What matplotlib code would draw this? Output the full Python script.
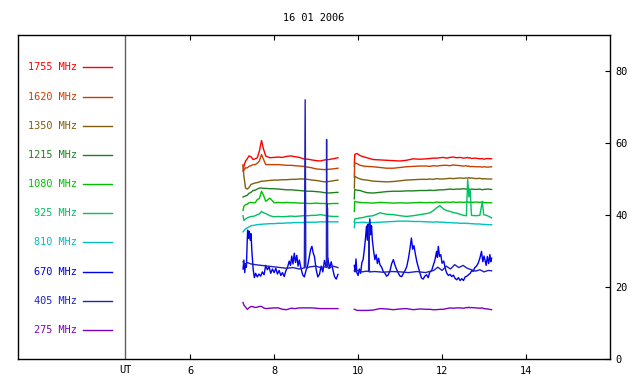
import matplotlib
matplotlib.use("Agg")
import matplotlib.pyplot as plt
import numpy as np

# channel names and colours (top to bottom in the key)
freqs = ["1755 MHz", "1620 MHz", "1350 MHz", "1215 MHz", "1080 MHz",
         "925 MHz", "810 MHz", "670 MHz", "405 MHz", "275 MHz"]
colors = ["#ff0000", "#c84000", "#806010", "#208020", "#00c000",
          "#00c060", "#00c0c0", "#0000f0", "#2020c0", "#8000c0"]

# time (UT hours), first and second recording block
t1 = [7.26, 7.28, 7.32, 7.36, 7.40, 7.45, 7.50, 7.55, 7.60, 7.65,
      7.70, 7.75, 7.80, 7.90, 8.00, 8.10, 8.20, 8.30, 8.40, 8.50,
      8.60, 8.70, 8.80, 8.90, 9.00, 9.10, 9.20, 9.30, 9.40, 9.52]
t2 = [9.91, 9.92, 9.97, 10.05, 10.12, 10.21, 10.36, 10.52, 10.68, 10.84,
      11.00, 11.15, 11.31, 11.47, 11.63, 11.71, 11.79, 11.87, 11.95, 12.03,
      12.11, 12.19, 12.26, 12.35, 12.43, 12.51, 12.58, 12.61, 12.64, 12.67,
      12.70, 12.80, 12.90, 12.96, 12.99, 13.08, 13.18]

f1755_a = [52.2, 53.5, 55.0, 55.6, 56.4, 56.2, 55.4, 55.6, 55.9, 57.8,
           60.7, 58.2, 56.4, 55.9, 56.0, 56.1, 56.0, 56.3, 56.4, 56.2,
           56.0, 55.6, 55.5, 55.3, 55.1, 55.0, 55.3, 55.4, 55.6, 55.9]
f1755_b = [53.5, 56.8, 57.1, 56.5, 56.2, 55.9, 55.4, 55.3, 55.2, 55.1,
           55.0, 55.2, 55.6, 55.5, 55.6, 55.7, 55.8, 55.8, 55.9, 56.0,
           55.8, 56.0, 56.1, 55.9, 56.0, 55.8, 55.9, 56.0, 55.8, 55.9,
           55.7, 55.8, 55.6, 55.7, 55.5, 55.7, 55.6]
f1620_a = [54.0, 52.4, 53.1, 53.1, 53.5, 53.7, 54.0, 54.0, 54.4, 55.0,
           56.8, 55.4, 54.0, 54.0, 54.0, 54.0, 53.9, 53.8, 53.8, 53.7,
           53.6, 53.5, 53.3, 53.1, 52.8, 52.7, 52.6, 52.7, 52.8, 53.0]
f1620_b = [50.5, 54.5, 54.3, 53.8, 53.6, 53.5, 53.4, 53.2, 53.0, 53.0,
           53.2, 53.4, 53.5, 53.6, 53.6, 53.5, 53.7, 53.6, 53.7, 53.8,
           53.8, 53.7, 53.9, 53.8, 53.7, 53.6, 53.7, 53.5, 53.6, 53.4,
           53.5, 53.4, 53.4, 53.3, 53.4, 53.3, 53.4]
f1350_a = [53.6, 50.8, 47.5, 47.2, 47.6, 48.5, 48.7, 48.9, 49.0, 49.2,
           49.4, 49.4, 49.5, 49.6, 49.7, 49.7, 49.8, 49.8, 49.9, 49.9,
           50.0, 50.0, 49.9, 49.7, 49.6, 49.4, 49.2, 49.3, 49.5, 49.7]
f1350_b = [47.5, 50.8, 50.4, 50.0, 49.8, 49.7, 49.4, 49.3, 49.2, 49.3,
           49.5, 49.7, 49.8, 49.9, 49.9, 50.0, 49.9, 50.1, 50.0, 50.0,
           50.1, 50.2, 50.1, 50.2, 50.3, 50.2, 50.3, 50.2, 50.4, 50.2,
           50.3, 50.1, 50.2, 50.0, 50.1, 50.0, 50.0]
f1215_a = [45.0, 45.1, 45.3, 45.5, 46.0, 46.3, 46.8, 46.9, 47.2, 47.5,
           47.5, 47.4, 47.4, 47.3, 47.3, 47.2, 47.1, 47.0, 47.0, 46.9,
           46.8, 46.7, 46.6, 46.6, 46.5, 46.4, 46.2, 46.1, 46.2, 46.3]
f1215_b = [44.5, 47.1, 46.9, 46.8, 46.5, 46.2, 46.1, 46.3, 46.5, 46.6,
           46.6, 46.7, 46.7, 46.8, 46.8, 46.9, 46.8, 46.9, 47.0, 47.0,
           47.1, 47.2, 47.1, 47.2, 47.2, 47.3, 47.2, 47.1, 47.2, 47.1,
           47.2, 47.1, 47.2, 47.0, 47.1, 47.2, 47.1]
f1080_a = [41.3, 42.4, 42.9, 43.0, 43.4, 43.5, 43.4, 43.4, 44.3, 44.6,
           46.6, 45.4, 43.8, 44.7, 43.4, 43.5, 43.4, 43.5, 43.4, 43.4,
           43.3, 43.3, 43.2, 43.2, 43.3, 43.2, 43.2, 43.1, 43.2, 43.2]
f1080_b = [41.0, 43.8, 43.6, 43.5, 43.4, 43.4, 43.3, 43.5, 43.4, 43.3,
           43.4, 43.3, 43.4, 43.5, 43.4, 43.5, 43.4, 43.6, 43.5, 43.5,
           43.6, 43.5, 43.6, 43.5, 43.6, 43.5, 43.6, 43.7, 43.5, 43.6,
           43.5, 43.6, 43.5, 43.6, 43.5, 43.4, 43.4]
f925_a = [39.8, 38.5, 38.9, 39.2, 39.4, 39.6, 39.6, 39.8, 40.1, 40.3,
          41.0, 40.6, 40.4, 39.8, 39.5, 39.6, 39.5, 39.6, 39.7, 39.6,
          39.7, 39.8, 39.8, 39.9, 39.9, 40.1, 39.9, 39.7, 39.6, 39.6]
f925_b = [38.0, 38.9, 39.0, 39.2, 39.3, 39.6, 39.8, 40.6, 40.2, 40.1,
          39.8, 39.6, 39.8, 40.1, 40.4, 40.6, 41.2, 42.0, 42.6, 41.7,
          41.2, 41.0, 40.7, 40.5, 40.2, 39.9, 39.8, 49.9, 45.0, 47.0,
          39.9, 39.8, 39.9, 43.8, 40.1, 39.8, 39.2]
f810_a = [35.3, 35.6, 36.2, 36.4, 36.7, 37.0, 37.1, 37.2, 37.3, 37.4,
          37.4, 37.5, 37.5, 37.6, 37.6, 37.7, 37.7, 37.8, 37.8, 37.9,
          37.9, 37.9, 38.0, 38.0, 38.0, 38.1, 38.1, 38.1, 38.1, 38.1]
f810_b = [36.5, 37.8, 37.9, 37.9, 38.0, 37.9, 37.9, 38.0, 38.1, 38.2,
          38.3, 38.3, 38.2, 38.2, 38.1, 38.1, 38.0, 38.1, 38.0, 38.0,
          37.9, 37.9, 37.8, 37.8, 37.7, 37.7, 37.7, 37.6, 37.7, 37.6,
          37.6, 37.5, 37.5, 37.4, 37.4, 37.3, 37.3]
f275_a = [15.7, 15.0, 14.4, 13.8, 14.2, 14.6, 14.5, 14.3, 14.4, 14.6,
          14.6, 14.2, 14.0, 14.1, 14.2, 14.2, 13.8, 13.7, 14.1, 14.0,
          14.2, 14.2, 14.2, 14.2, 14.1, 14.0, 14.0, 14.0, 14.0, 14.0]
f275_b = [13.8, 13.8, 13.5, 13.5, 13.5, 13.5, 13.6, 14.0, 13.9, 13.7,
          13.9, 14.0, 13.7, 13.9, 13.8, 13.8, 13.7, 13.7, 13.8, 13.8,
          14.0, 14.2, 14.1, 14.2, 14.2, 14.1, 14.3, 14.2, 14.4, 14.2,
          14.3, 14.2, 14.1, 14.2, 14.0, 13.9, 13.7]

# 670 MHz is sampled finer, it is the noisy one
t670_a = [7.26, 7.28, 7.30, 7.32, 7.34, 7.36, 7.37, 7.39, 7.41, 7.43,
          7.45, 7.47, 7.50, 7.53, 7.56, 7.60, 7.64, 7.68, 7.72, 7.76,
          7.80, 7.84, 7.88, 7.92, 7.96, 8.00, 8.04, 8.08, 8.12, 8.16,
          8.20, 8.24, 8.28, 8.32, 8.36, 8.39, 8.42, 8.45, 8.48, 8.51,
          8.54, 8.57, 8.60, 8.64, 8.68, 8.72, 8.76, 8.80, 8.84, 8.87,
          8.90, 8.93, 8.96, 9.00, 9.04, 9.08, 9.12, 9.16, 9.20, 9.24,
          9.28, 9.32, 9.36, 9.40, 9.44, 9.48, 9.52]
f670_a = [25.0, 27.5, 24.0, 26.5, 25.5, 33.0, 35.8, 33.5, 35.5, 33.0,
          34.8, 30.0, 25.0, 22.6, 23.8, 22.8, 23.6, 23.0, 24.2, 23.4,
          26.0, 24.8, 25.6, 23.8, 25.0, 24.0, 25.2, 23.6, 24.6, 23.2,
          24.0, 22.9, 24.5, 25.5, 27.2, 26.0, 28.6, 26.4, 29.4, 26.8,
          28.8, 25.8, 27.5, 25.2, 23.4, 22.8, 24.6, 26.0, 28.5, 30.4,
          31.3, 29.5, 28.5, 25.0, 22.8, 23.5, 25.8, 24.2, 27.4, 25.5,
          28.0, 25.2, 27.0, 24.8, 22.8, 22.2, 23.5]
t670_b = [9.91, 9.93, 9.95, 9.97, 10.00, 10.03, 10.06, 10.09, 10.12, 10.15,
          10.18, 10.20, 10.22, 10.24, 10.26, 10.28, 10.30, 10.32, 10.34, 10.37,
          10.40, 10.43, 10.46, 10.49, 10.52, 10.56, 10.60, 10.64, 10.68, 10.72,
          10.76, 10.80, 10.84, 10.88, 10.92, 10.96, 11.00, 11.04, 11.08, 11.12,
          11.16, 11.20, 11.24, 11.27, 11.30, 11.33, 11.36, 11.40, 11.43, 11.47,
          11.51, 11.55, 11.59, 11.63, 11.67, 11.71, 11.75, 11.79, 11.83, 11.87,
          11.89, 11.91, 11.94, 11.97, 12.00, 12.04, 12.08, 12.11, 12.15, 12.19,
          12.23, 12.27, 12.31, 12.35, 12.39, 12.43, 12.47, 12.51, 12.55, 12.59,
          12.63, 12.67, 12.71, 12.74, 12.78, 12.82, 12.86, 12.90, 12.94, 12.97,
          13.00, 13.02, 13.05, 13.08, 13.11, 13.14, 13.16, 13.18]
f670_b = [26.0, 24.2, 27.8, 24.0, 23.2, 25.0, 23.8, 26.8, 27.6, 30.5,
          34.0, 36.9, 33.0, 37.5, 35.0, 38.9, 34.5, 37.0, 33.0, 30.0,
          27.6, 29.0, 26.5, 28.0, 26.2, 25.5, 24.3, 23.8, 23.0, 23.4,
          24.5, 26.5, 27.6, 26.0, 24.8, 23.8, 23.0, 22.9, 23.8, 24.6,
          25.7, 28.0, 31.0, 33.6, 30.5, 31.5, 29.4, 27.0, 25.7, 24.0,
          22.5, 22.2, 23.0, 23.4, 22.6, 24.2, 24.5, 26.0, 27.5, 29.9,
          28.2, 31.3, 28.5, 29.0, 26.6, 27.2, 25.0, 23.9, 23.2, 23.5,
          22.9, 23.3, 22.4, 22.0, 22.6, 21.8, 22.3, 21.8, 22.8, 23.0,
          23.4, 23.8, 24.6, 24.3, 25.4, 25.8, 26.6, 28.0, 29.9, 27.0,
          28.6, 27.6, 26.0, 28.5, 26.5, 29.0, 27.0, 28.0]

# 405 MHz, with its two short bursts in the first block
t405_a = [7.26, 7.30, 7.36, 7.45, 7.55, 7.70, 7.85, 8.00, 8.15, 8.30,
          8.45, 8.60, 8.72, 8.74, 8.755, 8.77, 8.85, 9.00, 9.10, 9.20,
          9.245, 9.25, 9.255, 9.26, 9.265, 9.27, 9.28, 9.30, 9.40, 9.52]
f405_a = [27.0, 26.0, 26.8, 26.4, 26.2, 26.0, 25.8, 25.6, 25.4, 25.2,
          25.4, 25.0, 25.3, 72.0, 25.5, 25.2, 25.6, 25.8, 25.4, 25.6,
          25.5, 61.0, 28.0, 43.0, 26.0, 42.0, 25.5, 25.2, 25.8, 25.4]
t405_b = [9.91, 10.00, 10.10, 10.20, 10.25, 10.26, 10.27, 10.40, 10.60, 10.80,
          11.00, 11.20, 11.40, 11.60, 11.80, 11.90, 12.00, 12.10, 12.20, 12.30,
          12.40, 12.50, 12.60, 12.70, 12.80, 12.90, 13.00, 13.10, 13.18]
f405_b = [24.5, 24.6, 24.2, 24.4, 24.3, 37.0, 24.2, 24.3, 24.1, 24.3,
          24.2, 24.0, 24.3, 24.0, 24.6, 25.5, 24.6, 25.8, 25.0, 26.2,
          25.4, 26.0, 25.2, 24.8, 24.4, 24.8, 24.2, 24.6, 24.5]

series = [
    (t1, f1755_a, t2, f1755_b),
    (t1, f1620_a, t2, f1620_b),
    (t1, f1350_a, t2, f1350_b),
    (t1, f1215_a, t2, f1215_b),
    (t1, f1080_a, t2, f1080_b),
    (t1, f925_a, t2, f925_b),
    (t1, f810_a, t2, f810_b),
    (t670_a, f670_a, t670_b, f670_b),
    (t405_a, f405_a, t405_b, f405_b),
    (t1, f275_a, t2, f275_b),
]

plt.rcParams["font.family"] = "DejaVu Sans Mono"
plt.rcParams["font.size"] = 7.4

fig = plt.figure(figsize=(6.4, 3.84), dpi=100)
ax = fig.add_axes([18 / 640, 25 / 384, 592 / 640, 324 / 384])

# the 405 and 670 channels are drawn last so they sit on top
order = [0, 1, 2, 3, 4, 5, 6, 9, 7, 8]
for i in order:
    ta, ya, tb, yb = series[i]
    ax.plot(ta, ya, color=colors[i], lw=1.0)
    ax.plot(tb, yb, color=colors[i], lw=1.0)

# key on the left side of the frame
for k, (name, c) in enumerate(zip(freqs, colors)):
    ky = 81.0 - 8.1 * k
    ax.text(3.3, ky, name, color=c, ha="right", va="center")
    ax.plot([3.45, 4.14], [ky, ky], color=c, lw=1.0)

ax.axvline(4.46, color="#606060", lw=1.0)
ax.text(4.46, -0.035, "UT", transform=ax.get_xaxis_transform(),
        ha="center", va="center")

ax.set_xlim(1.9, 16.0)
ax.set_ylim(0, 90)
ax.set_xticks([6, 8, 10, 12, 14])
ax.set_yticks([0, 20, 40, 60, 80])
ax.yaxis.tick_right()
ax.tick_params(axis="x", direction="in", top=True, bottom=True, length=3.5, pad=5, width=0.8)
ax.tick_params(axis="y", direction="in", right=True, left=False, length=3.5, pad=4, width=0.8)
for s in ax.spines.values():
    s.set_linewidth(1.0)

fig.text(313.5 / 640, 1 - 18 / 384, "16 01 2006", ha="center", va="center")

fig.savefig("out.png", dpi=100)
